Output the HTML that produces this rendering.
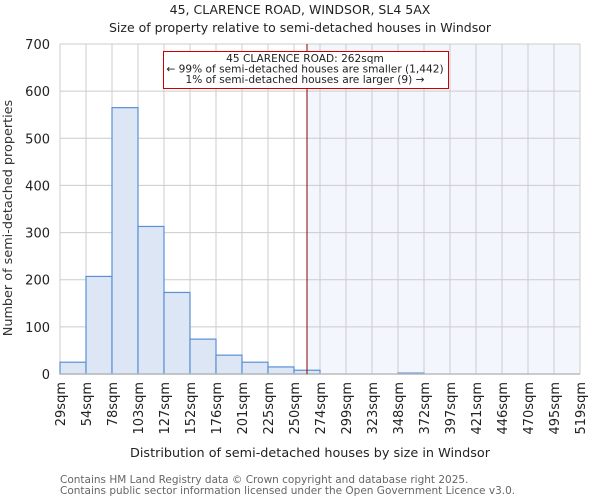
<!DOCTYPE html>
<html><head><meta charset="utf-8"><style>
body{margin:0;background:#fff;font-family:"DejaVu Sans","Liberation Sans",sans-serif;}
</style></head><body>
<svg id="chart" width="600" height="500" xmlns="http://www.w3.org/2000/svg" font-family="DejaVu Sans, Liberation Sans, sans-serif">
<text x="300" y="14" font-size="12.5" text-anchor="middle" fill="#222">45, CLARENCE ROAD, WINDSOR, SL4 5AX</text>
<text x="300" y="32" font-size="12.5" text-anchor="middle" fill="#222">Size of property relative to semi-detached houses in Windsor</text>
<g id="plot"></g>
<text x="310" y="457" font-size="12.8" text-anchor="middle" fill="#222">Distribution of semi-detached houses by size in Windsor</text>
<text transform="translate(12,218) rotate(-90)" font-size="12.8" text-anchor="middle" fill="#333">Number of semi-detached properties</text>
<text x="60" y="483" font-size="10.5" fill="#666">Contains HM Land Registry data © Crown copyright and database right 2025.</text>
<text x="60" y="494" font-size="10.5" fill="#666">Contains public sector information licensed under the Open Government Licence v3.0.</text>
</svg>
<script>
const binLabels=["29sqm","54sqm","78sqm","103sqm","127sqm","152sqm","176sqm","201sqm","225sqm","250sqm","274sqm","299sqm","323sqm","348sqm","372sqm","397sqm","421sqm","446sqm","470sqm","495sqm","519sqm"];
const binEdges=[29,54,78,103,127,152,176,201,225,250,274,299,323,348,372,397,421,446,470,495,519];
const counts=[25,207,565,313,173,74,40,25,15,8,0,0,0,2,0,0,0,0,0,0];
const yTicks=[0,100,200,300,400,500,600,700];
const propertySize=262;
const NS="http://www.w3.org/2000/svg";
const X0=60,X1=580,Y0=374,Y1=44,YMAX=700;
const bw=(X1-X0)/counts.length;
const yS=v=>Y0-(v/YMAX)*(Y0-Y1);
const xI=i=>X0+i*bw;
function xVal(v){for(let i=0;i<binEdges.length-1;i++){if(v<=binEdges[i+1])return xI(i)+(v-binEdges[i])/(binEdges[i+1]-binEdges[i])*bw;}return X1;}
const g=document.getElementById('plot');
function mk(t,a){const e=document.createElementNS(NS,t);for(const k in a)e.setAttribute(k,a[k]);g.appendChild(e);return e;}
const mx=xVal(propertySize);
let sh=mk('rect',{x:mx,y:Y1,width:X1-mx,height:Y0-Y1,fill:'#f3f6fd'});


yTicks.forEach(v=>{
 let l=mk('line',{x1:X0,x2:X1,y1:yS(v),y2:yS(v),stroke:'#ccc','stroke-width':1});
 
 
 let t=mk('text',{x:X0-10,y:yS(v)+5,'font-size':'13','text-anchor':'end',fill:'#222'});t.textContent=v;
 
 
});
binLabels.forEach((s,i)=>{
 let l=mk('line',{x1:xI(i),x2:xI(i),y1:Y1,y2:Y0,stroke:'#ccc','stroke-width':1});
 
 
 let t=mk('text',{transform:`translate(${xI(i)+5},${Y0+8}) rotate(-90)`,'font-size':'13','text-anchor':'end',fill:'#222'});t.textContent=s;
 
 
});
counts.forEach((c,i)=>{
 if(c<=0)return;
 let r=mk('rect',{x:xI(i),y:yS(c),width:bw,height:Y0-yS(c),fill:'#dce6f4',stroke:'#5b8fd6','stroke-width':1.2});
 
 
});
let ax=mk('line',{x1:X0,x2:X1,y1:Y0,y2:Y0,stroke:'#bbb','stroke-width':1.5});


let ml=mk('line',{x1:mx,x2:mx,y1:Y1,y2:Y0,stroke:'#8b0000','stroke-width':1});


let bx=mk('rect',{x:163.5,y:51.5,width:285,height:37,fill:'#fff',stroke:'#cc0000','stroke-width':1});


["45 CLARENCE ROAD: 262sqm","← 99% of semi-detached houses are smaller (1,442)","1% of semi-detached houses are larger (9) →"].forEach((s,i)=>{
 let t=mk('text',{x:305,y:62+i*10.5,'font-size':'10.6','text-anchor':'middle',fill:'#222'});t.textContent=s;
 
 
});
</script>
</body></html>
